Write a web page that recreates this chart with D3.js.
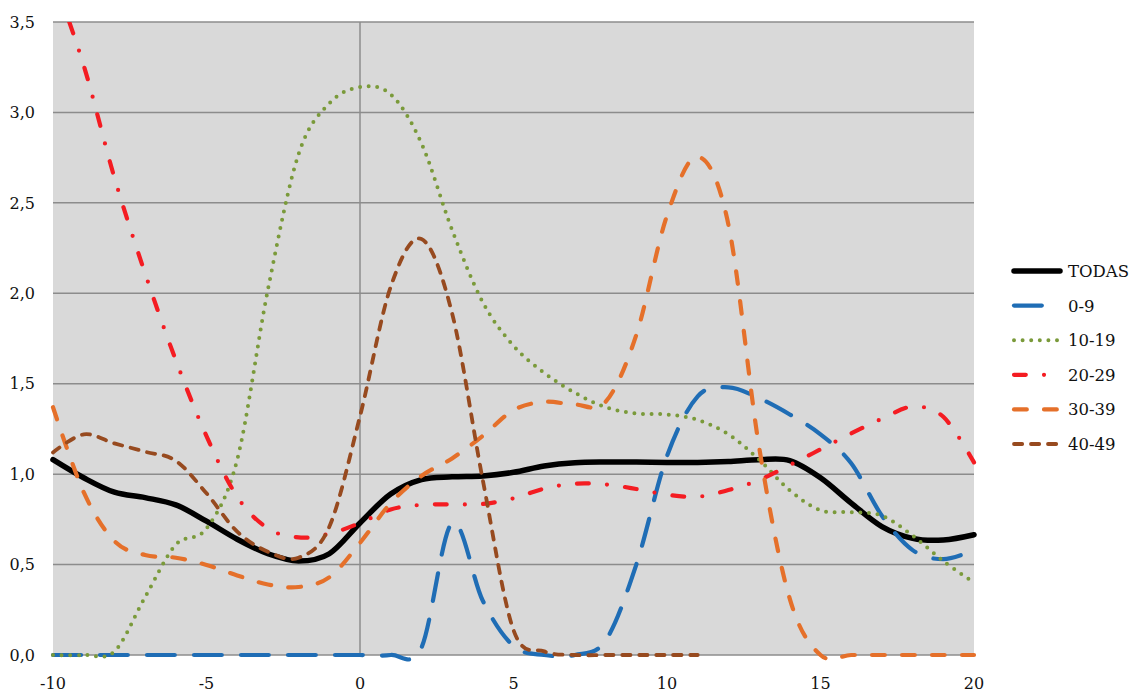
<!DOCTYPE html>
<html>
<head>
<meta charset="utf-8">
<script src="https://cdn.jsdelivr.net/npm/d3@7"></script>
<style>
  html, body { margin: 0; padding: 0; background: #fff; }
</style>
</head>
<body>
<svg id="chart" width="1135" height="693" font-family="'DejaVu Serif', serif"></svg>
<script>
// x positions (one point per unit, -10 .. 20)
const xValues = [-10, -9, -8, -7, -6, -5, -4, -3, -2, -1, 0, 1, 2, 3, 4, 5, 6, 7, 8, 9, 10,
                 11, 12, 13, 14, 15, 16, 17, 18, 19, 20];

const xTicks = [-10, -5, 0, 5, 10, 15, 20];
const yTicks = [0, 0.5, 1, 1.5, 2, 2.5, 3, 3.5];

const seriesNames = ["TODAS", "0-9", "10-19", "20-29", "30-39", "40-49"];

const todas = [1.08, 0.98, 0.90, 0.87, 0.83, 0.74, 0.64, 0.56, 0.52, 0.56, 0.73,
               0.89, 0.97, 0.985, 0.99, 1.01, 1.045, 1.063, 1.067, 1.067, 1.065,
               1.065, 1.07, 1.08, 1.075, 0.98, 0.84, 0.71, 0.645, 0.636, 0.665];

const age0_9 = [0, 0, 0, 0, 0, 0, 0, 0, 0, 0, 0,
                0, 0.04, 0.73, 0.30, 0.05, 0, 0, 0.08, 0.50, 1.10,
                1.43, 1.48, 1.42, 1.33, 1.22, 1.06, 0.77, 0.58, 0.53, 0.58];

const age10_19 = [0, 0, 0.02, 0.32, 0.61, 0.70, 1.08, 2.02, 2.77, 3.05, 3.14,
                  3.10, 2.83, 2.35, 1.95, 1.71, 1.56, 1.45, 1.37, 1.335, 1.33,
                  1.30, 1.22, 1.08, 0.91, 0.80, 0.79, 0.77, 0.66, 0.52, 0.40];

const age20_29 = [3.75, 3.26, 2.64, 2.11, 1.63, 1.21, 0.875, 0.70, 0.65, 0.67, 0.73,
                  0.805, 0.83, 0.833, 0.835, 0.866, 0.92, 0.947, 0.943, 0.918, 0.886,
                  0.875, 0.912, 0.967, 1.05, 1.137, 1.225, 1.306, 1.373, 1.317, 1.065];

const age30_39 = [1.37, 0.90, 0.63, 0.553, 0.538, 0.498, 0.44, 0.39, 0.376, 0.43, 0.62,
                  0.84, 0.99, 1.087, 1.212, 1.354, 1.40, 1.385, 1.40, 1.77, 2.43,
                  2.755, 2.38, 1.15, 0.31, 0, 0, 0, 0, 0, 0];

const age40_49 = [1.12, 1.22, 1.17, 1.124, 1.074, 0.894, 0.682, 0.571, 0.538, 0.709, 1.32,
                  2.036, 2.30, 1.889, 0.967, 0.138, 0.02, 0, 0, 0, 0,
                  0, null, null, null, null, null, null, null, null, null];

const seriesValues = [todas, age0_9, age10_19, age20_29, age30_39, age40_49];

// line styles per series
const styles = [
  { color: "#000000", width: 5.5, dash: null },
  { color: "#1f6db5", width: 4.2, dash: "27.8 19.2" },
  { color: "#7a9a3a", width: 4.0, dash: "0 8.6" },
  { color: "#f41c22", width: 4.2, dash: "11.8 18.2 0 18.2" },
  { color: "#e5702a", width: 4.2, dash: "12.8 17.2" },
  { color: "#974a1f", width: 3.8, dash: "8.2 8.8" }
];

const svg = d3.select("#chart");
const plot = { left: 53, right: 974, top: 22, bottom: 655 };

const x = d3.scaleLinear().domain([-10, 20]).range([plot.left, plot.right]);
const y = d3.scaleLinear().domain([0, 3.5]).range([plot.bottom, plot.top]);

// plot background
svg.append("rect")
  .attr("x", plot.left).attr("y", plot.top)
  .attr("width", plot.right - plot.left).attr("height", plot.bottom - plot.top)
  .attr("fill", "#d9d9d9");

// horizontal gridlines
svg.append("g").selectAll("line").data(yTicks).join("line")
  .attr("x1", plot.left).attr("x2", plot.right)
  .attr("y1", d => y(d)).attr("y2", d => y(d))
  .attr("stroke", "#8c8c8c").attr("stroke-width", 1.5);

// vertical axis at x = 0
svg.append("line")
  .attr("x1", x(0)).attr("x2", x(0))
  .attr("y1", plot.top).attr("y2", plot.bottom)
  .attr("stroke", "#8c8c8c").attr("stroke-width", 1.5);

// y tick labels
const fmt = d => d3.format(".1f")(d).replace(".", ",");
svg.append("g").selectAll("text").data(yTicks).join("text")
  .attr("x", 35).attr("y", d => y(d)).attr("dy", "0.36em")
  .attr("text-anchor", "end").attr("font-size", 16).attr("fill", "#111")
  .text(fmt);

// x tick labels
svg.append("g").selectAll("text").data(xTicks).join("text")
  .attr("x", d => x(d)).attr("y", 689)
  .attr("text-anchor", "middle").attr("font-size", 16).attr("fill", "#111")
  .text(d => d);

// clip lines at the top of the plot
svg.append("clipPath").attr("id", "plotClip")
  .append("rect")
  .attr("x", plot.left - 5).attr("y", plot.top)
  .attr("width", plot.right - plot.left + 10).attr("height", 693 - plot.top);

const line = d3.line()
  .defined(d => d[1] != null)
  .x(d => x(d[0]))
  .y(d => y(d[1]))
  .curve(d3.curveCatmullRom.alpha(0));

const lines = svg.append("g").attr("clip-path", "url(#plotClip)");
seriesValues.forEach((vals, i) => {
  const pts = xValues.map((xv, j) => [xv, vals[j]]);
  const s = styles[i];
  lines.append("path")
    .attr("d", line(pts))
    .attr("fill", "none")
    .attr("stroke", s.color)
    .attr("stroke-width", s.width)
    .attr("stroke-linecap", "round")
    .attr("stroke-linejoin", "round")
    .attr("stroke-dasharray", s.dash);
});

// legend
const legendY = d3.scalePoint().domain(seriesNames).range([271, 444]);
const legend = svg.append("g");
seriesNames.forEach((name, i) => {
  const s = styles[i];
  const yy = legendY(name);
  legend.append("line")
    .attr("x1", 1014).attr("x2", 1060)
    .attr("y1", yy).attr("y2", yy)
    .attr("stroke", s.color)
    .attr("stroke-width", s.width)
    .attr("stroke-linecap", "round")
    .attr("stroke-dasharray", s.dash);
  legend.append("text")
    .attr("x", 1068).attr("y", yy).attr("dy", "0.36em")
    .attr("font-size", 16.5).attr("fill", "#111")
    .text(name);
});
</script>
</body>
</html>
